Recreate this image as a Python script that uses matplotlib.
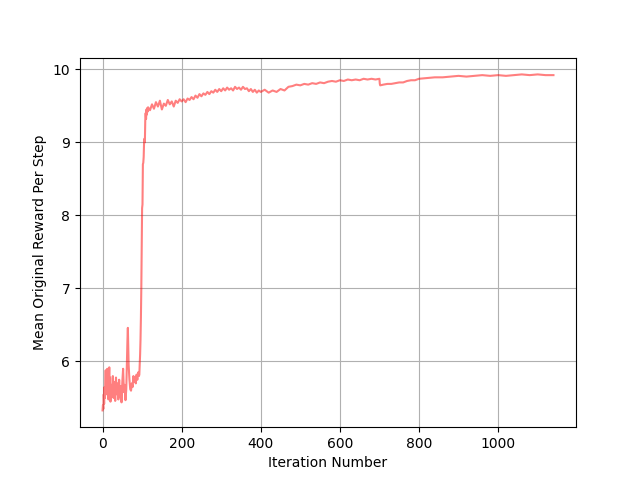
import numpy as np
import matplotlib
matplotlib.use('Agg')
import matplotlib.pyplot as plt

# early phase: noisy, low reward
iter_early = [0, 1, 2, 3, 4, 5, 6, 7, 8, 9, 10, 11, 12, 13, 14, 15, 16, 17, 18, 19,
              20, 22, 24, 26, 28, 30, 32, 34, 36, 38, 40, 42, 44, 46, 48, 50, 52, 54,
              56, 58, 60, 62, 63, 64, 65, 66, 68, 70, 72, 74, 76, 78, 80, 82, 84, 86,
              88, 90, 92, 93, 94, 95, 96, 97, 98, 99, 100, 101, 102, 103, 104, 105,
              106, 107, 108, 109, 110, 111, 112, 113, 114]
reward_early = [5.33, 5.40, 5.35, 5.55, 5.42, 5.65, 5.50, 5.70, 5.88, 5.60, 5.75, 5.55,
                5.90, 5.62, 5.80, 5.48, 5.70, 5.92, 5.55, 5.78, 5.45, 5.68, 5.52, 5.80,
                5.50, 5.72, 5.46, 5.78, 5.55, 5.70, 5.48, 5.75, 5.52, 5.66, 5.44, 5.72,
                5.90, 5.58, 5.68, 5.47, 5.62, 6.10, 6.30, 6.46, 6.20, 5.95, 5.75, 5.62,
                5.60, 5.70, 5.65, 5.80, 5.72, 5.78, 5.70, 5.82, 5.75, 5.85, 5.80, 5.82,
                5.95, 6.10, 6.30, 6.60, 7.00, 7.60, 8.10, 8.15, 8.70, 8.72, 8.80, 9.00,
                9.05, 9.00, 9.30, 9.40, 9.32, 9.45, 9.38, 9.47, 9.42]

# plateau phase
iter_late = [115, 120, 125, 130, 135, 140, 145, 150, 155, 160, 165, 170, 175, 180, 185,
             190, 195, 200, 205, 210, 215, 220, 225, 230, 235, 240, 245, 250, 255, 260,
             265, 270, 275, 280, 285, 290, 295, 300, 305, 310, 315, 320, 325, 330, 335,
             340, 345, 350, 355, 360, 365, 370, 375, 380, 385, 390, 395, 400, 410, 420,
             430, 440, 450, 460, 470, 480, 490, 500, 510, 520, 530, 540, 550, 560, 570,
             580, 590, 600, 610, 620, 630, 640, 650, 660, 670, 680, 690, 700, 701, 702,
             710, 720, 730, 740, 750, 760, 770, 780, 790, 800, 820, 840, 860, 880, 900,
             920, 940, 960, 980, 1000, 1020, 1040, 1060, 1080, 1100, 1120, 1140]
reward_late = [9.48, 9.44, 9.52, 9.46, 9.55, 9.49, 9.57, 9.45, 9.53, 9.50, 9.58, 9.52,
               9.56, 9.49, 9.57, 9.54, 9.59, 9.56, 9.59, 9.55, 9.60, 9.58, 9.62, 9.59,
               9.64, 9.61, 9.66, 9.63, 9.67, 9.65, 9.69, 9.66, 9.70, 9.68, 9.72, 9.69,
               9.73, 9.70, 9.74, 9.71, 9.75, 9.72, 9.74, 9.71, 9.76, 9.73, 9.75, 9.72,
               9.76, 9.73, 9.74, 9.70, 9.73, 9.69, 9.72, 9.68, 9.71, 9.69, 9.72, 9.68,
               9.71, 9.69, 9.73, 9.71, 9.76, 9.77, 9.79, 9.78, 9.80, 9.79, 9.81, 9.80,
               9.82, 9.81, 9.83, 9.84, 9.83, 9.85, 9.84, 9.86, 9.85, 9.86, 9.85, 9.87,
               9.86, 9.87, 9.86, 9.87, 9.80, 9.78, 9.79, 9.80, 9.80, 9.81, 9.82, 9.82,
               9.84, 9.85, 9.85, 9.87, 9.88, 9.89, 9.89, 9.90, 9.91, 9.90, 9.91, 9.92,
               9.91, 9.92, 9.91, 9.92, 9.93, 9.92, 9.93, 9.92, 9.92]

iters = iter_early + iter_late
rewards = reward_early + reward_late

plt.figure(figsize=(6.4, 4.8), dpi=100)
plt.plot(iters, rewards, color='red', alpha=0.5)
plt.xlabel("Iteration Number")
plt.ylabel("Mean Original Reward Per Step")
plt.grid(True)
plt.savefig('out.png', dpi=100)
